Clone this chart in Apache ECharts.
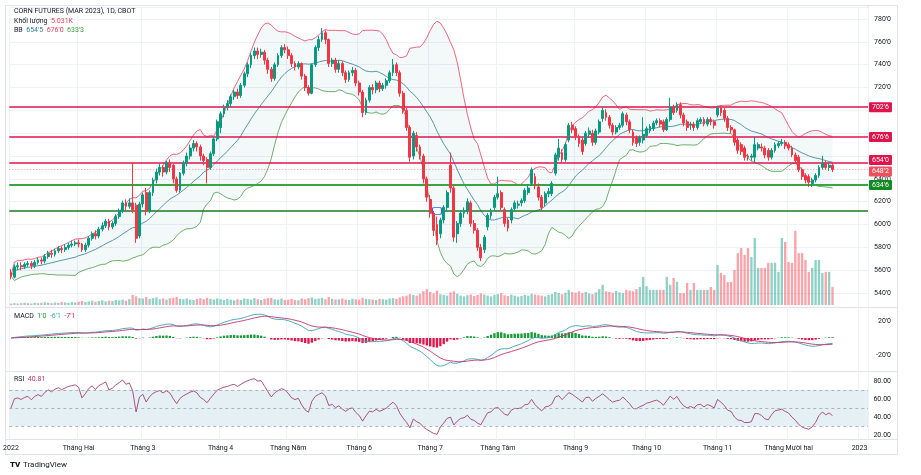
<!DOCTYPE html>
<html>
<head>
<meta charset="utf-8">
<title>CORN FUTURES (MAR 2023), 1D, CBOT</title>
<script src="https://cdn.jsdelivr.net/npm/echarts@6/dist/echarts.min.js"></script>
<style>
  html, body { margin: 0; padding: 0; background: #fff; }
  #chart { width: 921px; height: 475px; }
</style>
</head>
<body>
<div id="chart"></div>
<script>
// daily candles [open, close, low, high], in cents, Jan 3 -> Dec 20 2022
const candles = [
  // Jan
  [558,555,552,561],[554,563,553,565],[563,564,560,567],[564,563,560,567],[563,565,561,567],
  [565,566,563,568],[566,564,561,568],[564,567,562,569],[567,569,565,571],[569,568,565,571],
  [568,572,566,574],[572,575,570,577],[575,574,571,578],[574,577,572,579],[577,579,575,581],
  [579,578,575,581],[578,580,576,583],[580,582,578,584],[582,583,580,586],[583,584,581,586],
  // Feb
  [584,583,580,587],[583,578,576,584],[578,582,576,584],[582,588,580,590],[588,592,586,594],
  [592,590,587,595],[590,596,588,598],[596,599,594,602],[599,603,597,605],[603,598,595,605],
  [598,601,596,603],[601,607,599,609],[607,612,605,614],[612,619,610,621],[619,616,612,622],
  [616,619,614,623],[619,613,610,654],[617,588,584,619],[590,618,588,620],
  // Mar
  [618,626,615,628],[628,612,608,632],[612,628,610,630],[628,639,625,641],[639,646,636,649],
  [646,650,643,653],[650,646,642,652],[646,654,644,656],[654,650,646,657],[652,640,636,653],
  [640,630,628,642],[630,645,628,646],[645,654,643,656],[654,660,651,663],[660,667,657,670],
  [667,671,664,674],[671,668,664,673],[668,660,656,670],[660,656,652,662],[657,650,636,659],
  [650,662,648,664],[662,675,660,677],[675,690,673,692],
  // Apr
  [685,697,680,699],[697,703,694,705],[703,706,700,709],[706,712,703,714],[712,716,709,718],
  [716,713,710,719],[713,722,711,724],[722,732,720,734],[732,740,729,742],[740,748,737,750],
  [748,752,745,755],[752,749,745,755],[749,751,746,754],[751,744,740,753],[744,736,732,746],
  [736,728,725,738],[728,740,726,742],[740,748,738,750],[748,755,746,757],[755,753,750,758],
  // May
  [753,748,745,756],[748,741,738,750],[741,738,735,743],[738,741,736,743],[741,730,727,742],
  [730,720,717,732],[720,715,713,722],[715,740,714,741],[740,755,738,757],[755,762,752,765],
  [762,768,760,772],[768,762,758,770],[762,741,738,763],[741,744,738,746],[744,736,733,746],
  [736,741,733,744],[741,733,730,743],[733,727,724,735],[727,733,725,735],[733,735,730,738],
  [735,724,721,737],
  // Jun
  [724,716,713,726],[716,698,694,718],[698,709,696,711],[709,720,707,722],[720,718,714,723],
  [718,724,715,726],[724,719,716,726],[719,722,717,724],[722,726,719,728],[726,733,724,735],
  [733,740,730,745],[740,733,730,742],[733,715,712,735],[715,700,697,717],[700,685,682,702],
  [685,659,655,687],[660,680,657,682],[678,668,664,681],[668,660,657,670],[660,640,636,662],
  [640,624,620,642],
  // Jul
  [622,610,606,626],[610,595,590,612],[600,586,582,607],[592,604,588,606],[604,615,601,617],
  [615,628,612,630],[652,632,628,663],[632,589,585,634],[592,601,584,603],[601,610,598,612],
  [610,612,606,615],[612,620,609,623],[619,601,598,621],[601,595,592,604],[595,580,577,597],
  [580,571,568,583],[578,589,575,591],[598,608,595,610],[608,611,605,614],[615,624,612,626],
  // Aug
  [624,627,622,642],[628,615,612,630],[613,601,598,615],[604,597,594,606],[604,613,601,615],
  [614,619,611,621],[617,618,614,621],[619,621,616,623],[621,630,619,632],[628,632,626,635],
  [636,648,634,650],[642,634,631,645],[633,624,621,636],[624,615,612,626],[619,627,616,629],
  [627,629,624,632],[627,636,625,638],[645,661,643,663],[659,667,656,675],[663,657,654,666],
  [657,670,655,672],[674,687,672,689],[687,683,680,690],
  // Sep
  [684,677,674,686],[677,671,668,679],[674,664,661,676],[671,680,669,682],[679,682,676,685],
  [680,672,669,683],[672,682,670,684],[681,690,679,692],[693,700,690,703],[698,694,691,701],
  [694,687,684,696],[687,681,678,689],[681,685,679,687],[685,687,683,689],[687,697,685,699],
  [696,690,687,698],[690,683,680,692],[681,672,669,683],[676,671,668,678],[672,676,669,678],
  [674,679,671,694],
  // Oct
  [678,684,676,686],[682,686,680,688],[684,689,682,691],[689,691,687,693],[691,688,685,693],
  [690,683,681,692],[683,692,682,694],[692,703,690,711],[703,698,696,705],[700,705,698,707],
  [705,696,693,707],[696,689,686,698],[690,685,682,692],[687,688,683,690],[688,685,682,690],
  [685,691,683,693],[690,692,688,694],[692,688,686,694],[688,692,686,694],[692,690,687,694],
  [690,687,684,692],
  // Nov
  [696,702,694,704],[702,698,695,704],[700,693,690,702],[693,685,682,695],[685,683,680,687],
  [683,672,669,684],[674,665,662,676],[670,664,661,672],[667,659,656,669],[660,659,656,662],
  [659,660,656,662],[659,670,654,677],[667,670,665,672],[668,667,664,671],[667,661,658,669],
  [665,659,656,667],[659,665,657,667],[665,670,663,672],[669,671,667,673],[671,672,669,675],
  [672,669,666,674],
  // Dec
  [670,667,665,672],[667,661,659,669],[661,656,653,663],[659,648,646,661],[648,642,639,650],
  [643,639,636,645],[642,637,633,644],[636,639,633,641],[639,643,637,645],[643,650,641,652],
  [650,654,648,660],[654,650,648,656],[650,652,647,654],[652,648.25,646,654]
];

// volume, thousands of contracts
const volumes = [
  0.4,0.5,0.4,0.5,0.6,0.5,0.4,0.6,0.5,0.6,0.7,0.6,0.5,0.7,0.6,0.8,0.7,0.6,0.8,0.7,
  0.9,1.1,0.8,1.0,1.2,0.9,1.1,1.3,1.0,1.2,1.1,1.4,1.3,1.5,1.2,1.6,2.8,2.4,1.9,
  1.8,2.2,1.7,1.9,2.1,1.6,1.8,1.5,1.9,2.0,2.2,1.7,1.6,1.8,1.5,1.4,1.7,1.9,1.6,2.0,1.7,1.5,1.8,
  1.6,1.4,1.7,1.5,1.3,1.6,1.4,1.8,1.7,1.5,1.9,1.6,1.4,1.7,1.9,2.0,1.6,1.5,1.8,1.4,
  1.5,1.7,1.4,1.3,1.8,1.6,1.9,2.1,1.7,1.8,2.0,1.6,2.2,1.7,1.5,1.6,1.8,1.5,1.4,1.7,1.6,
  1.5,2.0,1.7,1.6,1.5,1.4,1.7,1.6,1.5,1.8,1.9,1.7,2.1,2.4,2.6,3.0,2.8,2.6,3.1,3.8,4.4,
  3.6,3.2,4.0,3.0,2.8,2.6,3.5,3.8,3.1,2.6,2.4,2.7,2.9,2.5,2.8,3.2,2.9,2.6,2.4,2.8,
  3.0,3.3,2.7,2.5,2.9,2.6,2.3,2.5,2.8,2.6,3.1,2.9,2.7,2.6,2.4,2.8,3.0,3.6,3.3,3.0,3.4,4.2,3.6,
  3.4,3.8,3.3,3.6,3.2,3.0,3.5,4.4,5.6,3.8,3.6,3.4,3.9,3.5,3.3,4.2,4.0,3.8,4.4,5.0,7.8,
  5.2,4.2,4.2,4.2,4.2,4.2,7.8,5.6,7.5,6.4,3.3,3.3,6.1,4.2,6.1,4.2,4.2,4.2,4.2,5.0,4.2,
  11.1,8.9,8.3,6.4,6.4,9.7,14.4,15.8,13.9,15.8,13.3,18.6,10.3,10.3,10.3,11.7,11.7,11.7,9.2,18.6,17.5,
  11.9,11.7,20.6,14.4,14.4,12.5,9.2,10.3,12.5,12.5,8.9,9.2,9.2,5.031
];

// horizontal levels drawn on the chart
const levelPrices = [702.75, 676.75, 654, 634.75, 612];
const levelTags = ["702'6", "676'6", "654'0", "634'6", ''];
const lastPrice = 648.25;

// time axis
const monthLabels = ['2022', 'Tháng Hai', 'Tháng 3', 'Tháng 4', 'Tháng Năm', 'Tháng 6', 'Tháng 7',
  'Tháng Tám', 'Tháng 9', 'Tháng 10', 'Tháng 11', 'Tháng Mười hai', '2023'];
const holidays = ['2022-01-17', '2022-02-21', '2022-04-15', '2022-05-30', '2022-06-20', '2022-07-04',
  '2022-09-05', '2022-11-24', '2022-12-26', '2023-01-02'];
const slotCount = 254; // traded days plus a few empty ones on the right

// text shown in the pane legends
const legendVolume = '5.031K';
const legendBB = ["654'5", "676'0", "633'3"];
const legendMACD = ["1'0", "-6'1", "-7'1"];
const legendRSI = '40.81';

const FONT = 'Roboto, "Noto Sans", sans-serif';
const UP = '#089981', DOWN = '#f23645';
const LEFT = 9.3, RIGHT = 53;

// trading days
const days = [];
for (let d = new Date(Date.UTC(2022, 0, 3)); days.length < slotCount; d.setUTCDate(d.getUTCDate() + 1)) {
  const s = d.toISOString().slice(0, 10);
  const wd = d.getUTCDay();
  if (wd !== 0 && wd !== 6 && !holidays.includes(s)) days.push(s);
}
const monthTick = {};
let lastMonth = '', mi = 0;
days.forEach((s, i) => {
  if (s.slice(0, 7) !== lastMonth) { monthTick[i] = monthLabels[mi++]; lastMonth = s.slice(0, 7); }
});

// price in cents and eighths, e.g. 702'6
function fmt(v) {
  const n = Math.floor(v + 1e-9);
  return n + "'" + Math.round((v - n) * 8);
}

// indicators from the closes
const closes = candles.map(c => c[1]);
const bbBasis = [], bbUpper = [], bbLower = [];
closes.forEach((c, i) => {
  const w = closes.slice(Math.max(0, i - 19), i + 1);
  const mean = w.reduce((a, b) => a + b, 0) / w.length;
  const sd = Math.sqrt(w.reduce((a, b) => a + (b - mean) * (b - mean), 0) / w.length);
  bbBasis.push(mean); bbUpper.push(mean + 2 * sd); bbLower.push(mean - 2 * sd);
});
function ema(arr, n) {
  const k = 2 / (n + 1), out = [arr[0]];
  for (let i = 1; i < arr.length; i++) out.push(arr[i] * k + out[i - 1] * (1 - k));
  return out;
}
const e12 = ema(closes, 12), e26 = ema(closes, 26);
const macd = closes.map((c, i) => e12[i] - e26[i]);
const signal = ema(macd, 9);
const hist = macd.map((m, i) => m - signal[i]);
// Wilder RSI(14); no history before Jan 3, so start from a neutral average move
const changes = closes.slice(1).map((c, i) => c - closes[i]);
const seed = changes.slice(0, 14).reduce((a, b) => a + Math.abs(b), 0) / 14 / 2;
let avgG = seed, avgL = seed;
const rsi = [50];
changes.forEach(ch => {
  avgG = (avgG * 13 + Math.max(ch, 0)) / 14;
  avgL = (avgL * 13 + Math.max(-ch, 0)) / 14;
  rsi.push(100 - 100 / (1 + avgG / avgL));
});

const chart = echarts.init(document.getElementById('chart'), null, { renderer: 'canvas' });

function xAxis(gi, labels) {
  return {
    type: 'category', gridIndex: gi, data: days, boundaryGap: true,
    axisLine: { show: false }, axisTick: { show: false },
    axisLabel: labels ? {
      show: true, interval: i => i in monthTick, formatter: (v, i) => monthTick[i] || '',
      fontSize: 7, color: '#131722', margin: 5, fontFamily: FONT, hideOverlap: false
    } : { show: false },
    splitLine: { show: true, interval: i => i in monthTick, lineStyle: { color: '#eef1f6', width: 1 } }
  };
}
const axisText = { fontSize: 7, color: '#131722', fontFamily: FONT, align: 'right', margin: 23 };

const levelStyle = [
  { color: '#e0134b', width: 1.5, tag: '#e0134b', offset: [0, 0] },
  { color: '#e0134b', width: 1.5, tag: '#e0134b', offset: [0, 0] },
  { color: '#e0134b', width: 1.5, tag: '#e0134b', offset: [0, -3] },
  { color: '#3aa53f', width: 2, tag: '#128a22', offset: [0, 0] },
  { color: '#1a7a1f', width: 1.5, tag: null, offset: [0, 0] }
];
const tagLabel = (text, bg, offset) => ({
  show: !!text, position: 'end', formatter: text, distance: 1, offset: offset,
  backgroundColor: bg, color: '#fff', fontSize: 7, fontFamily: FONT,
  padding: [2, 3, 1, 3], borderRadius: 1
});
const levelLines = levelPrices.map((p, i) => ({
  yAxis: p,
  lineStyle: { color: levelStyle[i].color, width: levelStyle[i].width, type: 'solid' },
  label: tagLabel(levelTags[i], levelStyle[i].tag, levelStyle[i].offset)
}));
levelLines.push({
  yAxis: lastPrice,
  lineStyle: { color: 'rgba(242,54,69,0.55)', width: 1, type: [1, 2] },
  label: tagLabel(fmt(lastPrice), '#f0505c', [0, 2])
});

// legend rows are rich text so the coloured values flow after their names
const legendRich = {
  n: { fill: '#131722', fontSize: 7, fontFamily: FONT },
  teal: { fill: '#2f7f95', fontSize: 7, fontFamily: FONT },
  red: { fill: '#e8405e', fontSize: 7, fontFamily: FONT },
  green: { fill: '#3a9a3f', fontSize: 7, fontFamily: FONT },
  hg: { fill: '#1f9a3a', fontSize: 7, fontFamily: FONT },
  mc: { fill: '#3aa3b8', fontSize: 7, fontFamily: FONT },
  sg: { fill: '#c4336a', fontSize: 7, fontFamily: FONT }
};
const row = (x, y, text) => ({
  type: 'text', x: x, y: y, silent: true, z: 10,
  style: { text: text, rich: legendRich, fill: '#131722', fontSize: 7, fontFamily: FONT, verticalAlign: 'middle' }
});
const hline = (y, x1, x2) => ({ type: 'line', silent: true, z: 0,
  shape: { x1: x1, y1: y, x2: x2, y2: y }, style: { stroke: '#e0e3eb', lineWidth: 1 } });

const option = {
  backgroundColor: '#ffffff',
  animation: false,
  grid: [
    { left: LEFT, right: RIGHT, top: 7.6, height: 285.5 },   // price
    { left: LEFT, right: RIGHT, top: 225, height: 80 },      // volume overlay
    { left: LEFT, right: RIGHT, top: 304, height: 68 },      // MACD
    { left: LEFT, right: RIGHT, top: 372, height: 67.5 }     // RSI
  ],
  xAxis: [xAxis(0, false), xAxis(1, false), xAxis(2, false), xAxis(3, true)],
  yAxis: [
    {
      type: 'value', gridIndex: 0, position: 'right', min: 540, max: 790, interval: 20,
      axisLine: { show: false }, axisTick: { show: false },
      axisLabel: Object.assign({}, axisText, {
        showMaxLabel: false,
        formatter: v => ([700, 680, 660].includes(v) || v > 780) ? '' : fmt(v)
      }),
      splitLine: { lineStyle: { color: '#eef1f6' } }
    },
    { type: 'value', gridIndex: 1, min: 0, max: 22.2, show: false },
    {
      type: 'value', gridIndex: 2, position: 'right', min: -40, max: 40, interval: 20,
      axisLine: { show: false }, axisTick: { show: false }, splitLine: { show: false },
      axisLabel: Object.assign({}, axisText, { formatter: v => (Math.abs(v) === 20 ? fmt(v) : '') })
    },
    {
      type: 'value', gridIndex: 3, position: 'right', min: 15, max: 90, interval: 5,
      axisLine: { show: false }, axisTick: { show: false }, splitLine: { show: false },
      axisLabel: Object.assign({}, axisText, { formatter: v => ([20, 40, 60, 80].includes(v) ? v.toFixed(2) : '') })
    }
  ],
  series: [
    // Bollinger band fill
    { type: 'line', xAxisIndex: 0, yAxisIndex: 0, data: bbLower, stack: 'bb', symbol: 'none', silent: true,
      lineStyle: { opacity: 0 }, z: 1 },
    { type: 'line', xAxisIndex: 0, yAxisIndex: 0, data: bbUpper.map((u, i) => u - bbLower[i]), stack: 'bb',
      symbol: 'none', silent: true, lineStyle: { opacity: 0 }, areaStyle: { color: 'rgba(0,110,130,0.065)' }, z: 1 },
    { type: 'line', xAxisIndex: 0, yAxisIndex: 0, data: bbUpper, symbol: 'none', silent: true,
      lineStyle: { color: '#e8405e', width: 0.8 }, z: 2 },
    { type: 'line', xAxisIndex: 0, yAxisIndex: 0, data: bbLower, symbol: 'none', silent: true,
      lineStyle: { color: '#4a9a45', width: 0.8 }, z: 2 },
    { type: 'line', xAxisIndex: 0, yAxisIndex: 0, data: bbBasis, symbol: 'none', silent: true,
      lineStyle: { color: '#2f7f95', width: 0.8 }, z: 2 },
    // volume
    { type: 'bar', xAxisIndex: 1, yAxisIndex: 1, barWidth: '70%', silent: true, z: 1,
      data: volumes.map((v, i) => ({ value: v,
        itemStyle: { color: candles[i][1] >= candles[i][0] ? 'rgba(8,153,129,0.45)' : 'rgba(242,54,69,0.45)' } })) },
    // candles and levels
    {
      type: 'candlestick', xAxisIndex: 0, yAxisIndex: 0, data: candles, barWidth: '70%', z: 5,
      itemStyle: { color: UP, color0: DOWN, borderColor: UP, borderColor0: DOWN, borderWidth: 1 },
      markLine: { symbol: ['none', 'none'], silent: true, animation: false, data: levelLines },
      markPoint: { silent: true, data: [{ coord: [126, levelPrices[4]], symbol: 'roundRect', symbolSize: [9, 7],
        itemStyle: { color: '#ffffff', borderColor: '#2962ff', borderWidth: 1 }, label: { show: false } }] }
    },
    // MACD
    { type: 'bar', xAxisIndex: 2, yAxisIndex: 2, barWidth: '70%', silent: true, z: 2,
      data: hist.map(h => ({ value: h, itemStyle: { color: h >= 0 ? '#1f9a3a' : '#e3174b' } })) },
    { type: 'line', xAxisIndex: 2, yAxisIndex: 2, data: macd, symbol: 'none', silent: true,
      lineStyle: { color: '#3aa3b8', width: 0.9 }, z: 3 },
    { type: 'line', xAxisIndex: 2, yAxisIndex: 2, data: signal, symbol: 'none', silent: true,
      lineStyle: { color: '#c4336a', width: 0.9 }, z: 3 },
    // RSI band, guides and line
    { type: 'line', xAxisIndex: 3, yAxisIndex: 3, data: [], silent: true, z: 1,
      markArea: { silent: true, itemStyle: { color: '#e5f0f4' }, data: [[{ yAxis: 30 }, { yAxis: 70 }]] },
      markLine: { silent: true, symbol: ['none', 'none'], label: { show: false },
        lineStyle: { color: '#9ea3ad', width: 0.8, type: [3, 3] },
        data: [{ yAxis: 70 }, { yAxis: 50 }, { yAxis: 30 }] } },
    { type: 'line', xAxisIndex: 3, yAxisIndex: 3, data: rsi, symbol: 'none', silent: true,
      lineStyle: { color: '#a3406e', width: 0.9 }, z: 3 }
  ],
  graphic: [
    { type: 'rect', silent: true, z: 0, shape: { x: 5.5, y: 5.5, width: 892, height: 449 },
      style: { fill: 'none', stroke: '#e0e3eb', lineWidth: 1 } },
    { type: 'line', silent: true, z: 0, shape: { x1: 868.5, y1: 5, x2: 868.5, y2: 440 },
      style: { stroke: '#e0e3eb', lineWidth: 1 } },
    hline(307.5, 5, 898), hline(371.5, 5, 898), hline(439.5, 5, 898),
    row(14, 11.5, '{n|CORN FUTURES (MAR 2023), 1D, CBOT}'),
    row(14, 21, '{n|Khối lượng}  {red|' + legendVolume + '}'),
    row(14, 30, '{n|BB}  {teal|' + legendBB[0] + '}  {red|' + legendBB[1] + '}  {green|' + legendBB[2] + '}'),
    row(14, 316, '{n|MACD}  {hg|' + legendMACD[0] + '}  {mc|' + legendMACD[1] + '}  {sg|' + legendMACD[2] + '}'),
    row(14, 379.5, '{n|RSI}  {sg|' + legendRSI + '}'),
    { type: 'text', x: 10, y: 465, silent: true, z: 10,
      style: { text: 'TV', fill: '#131722', fontSize: 8, fontWeight: 900, fontFamily: FONT, verticalAlign: 'middle' } },
    { type: 'text', x: 23, y: 465, silent: true, z: 10,
      style: { text: 'TradingView', fill: '#131722', fontSize: 8, fontFamily: FONT, verticalAlign: 'middle' } }
  ]
};
chart.setOption(option);
</script>
</body>
</html>
